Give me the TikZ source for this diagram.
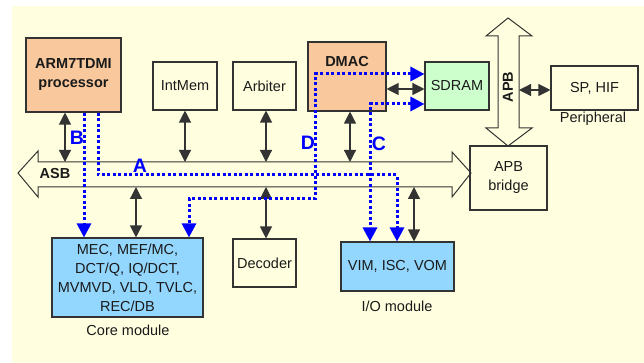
\documentclass[tikz,border=0pt]{standalone}
\usepackage{fontspec}
\setmainfont{Liberation Sans}
\usetikzlibrary{arrows.meta}
\definecolor{bgc}{HTML}{FFFFE0}
\definecolor{peach}{HTML}{F9C99D}
\definecolor{mint}{HTML}{CCFFCC}
\definecolor{sky}{HTML}{93D7FF}
\definecolor{ink}{HTML}{1A1A1A}
\definecolor{edge}{HTML}{333333}
\begin{document}
\begin{tikzpicture}[x=1pt,y=-1pt,
  every node/.style={text=ink,font=\fontsize{14.5}{19}\selectfont},
  box/.style={draw=edge,line width=1.1pt,inner sep=0pt,align=center},
  bold/.style={font=\fontsize{14.5}{19}\selectfont\bfseries},
  tag/.style={text=blue,font=\fontsize{19.5}{21}\selectfont\bfseries,inner sep=0pt},
  barrow/.style={draw=edge,line width=1.2pt,{Triangle[width=12pt,length=12pt]}-{Triangle[width=12pt,length=12pt]}},
  bluepath/.style={draw=blue,line width=3pt,dash pattern=on 3pt off 2.5pt},
  btip/.style={-{Triangle[width=14pt,length=14pt]}},
  btips/.style={{Triangle[width=14pt,length=14pt]}-{Triangle[width=14pt,length=14pt]}},
  bus/.style={draw=edge,line width=1pt,fill=bgc,line join=miter}
]
\useasboundingbox (0,0) rectangle (644,363);
\fill[bgc] (12,6) rectangle (644,363);

% ASB bus
\draw[bus] (18,173) -- (38,151) -- (38,162) -- (452,162) -- (452,152) -- (471,173)
  -- (452,197) -- (452,187) -- (38,187) -- (38,197) -- cycle;
\coordinate (asbtop) at (0,162);
\coordinate (asbbot) at (0,187);
\node[bold] (asblbl) at (55,174) {ASB};

% APB bus
\draw[bus] (508,18) -- (532,36) -- (519,36) -- (519,128) -- (532,128) -- (508,146)
  -- (486,128) -- (498,128) -- (498,36) -- (486,36) -- cycle;
\coordinate (apbright) at (519,90);
\node[bold,rotate=90] (apblbl) at (508,87) {APB};

% boxes
\node[box,fill=peach,bold,minimum width=95pt,minimum height=74pt] (arm) at (73.5,75) {ARM7TDMI\\processor};
\node[box,minimum width=64pt,minimum height=48pt] (intmem) at (185,86) {IntMem};
\node[box,minimum width=63pt,minimum height=48pt] (arbiter) at (264.5,86) {Arbiter};
\node[box,fill=peach,minimum width=78pt,minimum height=69pt,
  label={[bold,anchor=center,yshift=-20pt]north:DMAC}] (dmac) at (347,76.5) {};
\node[box,fill=mint,minimum width=64pt,minimum height=48pt] (sdram) at (457,86) {SDRAM};
\node[box,minimum width=87pt,minimum height=44pt] (sphif) at (594.5,88) {SP, HIF};
\node (periph) at (593,119) {Peripheral};
\node[box,minimum width=77pt,minimum height=64pt] (bridge) at (508.5,178) {APB\\bridge};
\node[box,fill=sky,minimum width=151pt,minimum height=79pt] (core) at (127.5,277.5)
  {MEC, MEF/MC,\\DCT/Q, IQ/DCT,\\MVMVD, VLD, TVLC,\\REC/DB};
\node (corelbl) at (128,330) {Core module};
\node[box,minimum width=63pt,minimum height=48pt] (decoder) at (264.5,263) {Decoder};
\node[box,fill=sky,minimum width=113pt,minimum height=49pt] (io) at (397.5,266.5) {VIM, ISC, VOM};
\node (iolbl) at (397,306) {I/O module};

% black bus arrows
\draw[barrow] (arm.south -| 65,0) -- (asbtop -| 65,0);
\draw[barrow] (intmem.south) -- (asbtop -| intmem.south);
\draw[barrow] (arbiter.south -| 266,0) -- (asbtop -| 266,0);
\draw[barrow] (dmac.south -| 350,0) -- (asbtop -| 350,0);
\draw[barrow] (asbbot -| 136,0) -- (core.north -| 136,0);
\draw[barrow] (asbbot -| 266,0) -- (decoder.north -| 266,0);
\draw[barrow] (asbbot -| 414,0) -- (io.north -| 414,0);
\draw[barrow] (dmac.east |- 0,89) -- (sdram.west |- 0,89);
\draw[barrow] (apbright) -- (sphif.west |- apbright);

% blue transfer paths
\draw[bluepath,btip] (arm.south -| 84,0) -- (core.north -| 84,0);
\draw[bluepath,btip] (arm.south -| 98,0) -- (98,175) -- (397,175) -- (io.north -| 397,0);
\draw[bluepath,btips] (sdram.west |- 0,74) -| (315,199) -| (core.north -| 189,0);
\draw[bluepath,btips] (sdram.west |- 0,104) -| (io.north -| 370,0);

\node[tag] (lA) at (140,166) {A};
\node[tag] (lB) at (77,138) {B};
\node[tag] (lC) at (379,144) {C};
\node[tag] (lD) at (308,143) {D};
\end{tikzpicture}
\end{document}
